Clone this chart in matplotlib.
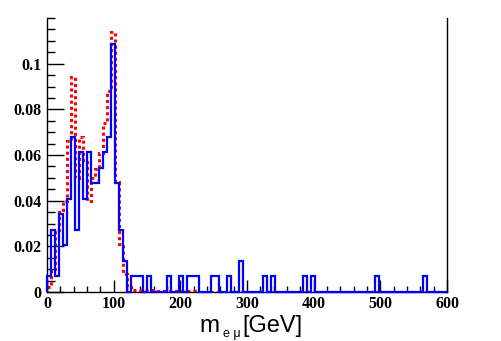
import numpy as np
import matplotlib
matplotlib.use("Agg")
import matplotlib.pyplot as plt
from matplotlib.ticker import MultipleLocator

# 100 bins of 6 GeV from 0 to 600
bin_edges = np.linspace(0, 600, 101)

# data (blue, solid) - normalised counts per bin
data_vals = [
    0.0068, 0.0272, 0.0068, 0.0340, 0.0204, 0.0408, 0.0680, 0.0272, 0.0612, 0.0408,
    0.0612, 0.0476, 0.0476, 0.0544, 0.0612, 0.0680, 0.1088, 0.0476, 0.0272, 0.0136,
    0.0, 0.0068, 0.0068, 0.0068, 0.0, 0.0068, 0.0, 0.0, 0.0, 0.0,
    0.0068, 0.0, 0.0, 0.0068, 0.0, 0.0068, 0.0068, 0.0068, 0.0, 0.0,
    0.0, 0.0068, 0.0068, 0.0, 0.0, 0.0068, 0.0, 0.0, 0.0136, 0.0,
    0.0, 0.0, 0.0, 0.0, 0.0068, 0.0, 0.0068, 0.0, 0.0, 0.0,
    0.0, 0.0, 0.0, 0.0, 0.0068, 0.0, 0.0068, 0.0, 0.0, 0.0,
    0.0, 0.0, 0.0, 0.0, 0.0, 0.0, 0.0, 0.0, 0.0, 0.0,
    0.0, 0.0, 0.0068, 0.0, 0.0, 0.0, 0.0, 0.0, 0.0, 0.0,
    0.0, 0.0, 0.0, 0.0, 0.0068, 0.0, 0.0, 0.0, 0.0, 0.0,
]

# simulation (red, dotted)
mc_vals = [
    0.0020, 0.0100, 0.0270, 0.0360, 0.0400, 0.0660, 0.0940, 0.0500, 0.0680, 0.0580,
    0.0400, 0.0500, 0.0540, 0.0610, 0.0740, 0.0880, 0.1140, 0.0480, 0.0210, 0.0080,
    0.0020, 0.0010, 0.0010, 0.0010, 0.0010, 0.0008, 0.0008, 0.0006, 0.0006, 0.0005,
    0.0005, 0.0004, 0.0004, 0.0004, 0.0003, 0.0003, 0.0003, 0.0002, 0.0002, 0.0002,
    0.0002, 0.0002, 0.0001, 0.0001, 0.0001, 0.0001, 0.0001, 0.0001, 0.0001, 0.0001,
    0.0, 0.0, 0.0, 0.0, 0.0, 0.0, 0.0, 0.0, 0.0, 0.0,
    0.0, 0.0, 0.0, 0.0, 0.0, 0.0, 0.0, 0.0, 0.0, 0.0,
    0.0, 0.0, 0.0, 0.0, 0.0, 0.0, 0.0, 0.0, 0.0, 0.0,
    0.0, 0.0, 0.0, 0.0, 0.0, 0.0, 0.0, 0.0, 0.0, 0.0,
    0.0, 0.0, 0.0, 0.0, 0.0, 0.0, 0.0, 0.0, 0.0, 0.0,
]

W, H = 501, 341
fig = plt.figure(figsize=(W/100, H/100), dpi=100)
ax = fig.add_axes([47/W, 1-292/H, 400/W, 274/H])

ax.stairs(mc_vals, bin_edges, color="#ff0000", lw=2.2, ls=(0, (1, 1)),
          baseline=None, zorder=2)
ax.stairs(data_vals, bin_edges, color="#0000ff", lw=1.6, baseline=0,
          zorder=3, clip_on=False)

ax.set_xlim(0, 600)
ax.set_ylim(0, 0.12)

ax.spines["top"].set_visible(False)
for s in ["left", "bottom", "right"]:
    ax.spines[s].set_linewidth(1.0)

ax.xaxis.set_major_locator(MultipleLocator(100))
ax.xaxis.set_minor_locator(MultipleLocator(20))
ax.yaxis.set_major_locator(MultipleLocator(0.02))
ax.yaxis.set_minor_locator(MultipleLocator(0.005))
ax.tick_params(axis="both", which="both", direction="in")
ax.tick_params(axis="x", which="major", length=9, width=1, pad=3)
ax.tick_params(axis="x", which="minor", length=4.5, width=1)
ax.tick_params(axis="y", which="major", length=12, width=1, pad=4)
ax.tick_params(axis="y", which="minor", length=6, width=1)
ax.tick_params(right=False, top=False, which="both")

ax.set_xticks([0, 100, 200, 300, 400, 500, 600])
ax.set_xticklabels(["0", "100", "200", "300", "400", "500", "600"])
ax.set_yticks([0, 0.02, 0.04, 0.06, 0.08, 0.1])
ax.set_yticklabels(["0", "0.02", "0.04", "0.06", "0.08", "0.1"])
for lab in ax.get_xticklabels() + ax.get_yticklabels():
    lab.set_fontfamily("Liberation Serif")
    lab.set_fontweight("bold")
    lab.set_fontsize(11.5)

# axis title: m with subscript "e μ", all upright sans
fig.text(199/W, 1 - 332/H, "m", fontsize=17.5,
         fontfamily="Liberation Sans", ha="left", va="baseline")
fig.text(223/W, 1 - 337/H, "e μ", fontsize=9,
         fontfamily="Liberation Sans", ha="left", va="baseline")
fig.text(242/W, 1 - 332/H, "[GeV]", fontsize=17,
         fontfamily="Liberation Sans", ha="left", va="baseline")

fig.savefig("out.png", dpi=100)
